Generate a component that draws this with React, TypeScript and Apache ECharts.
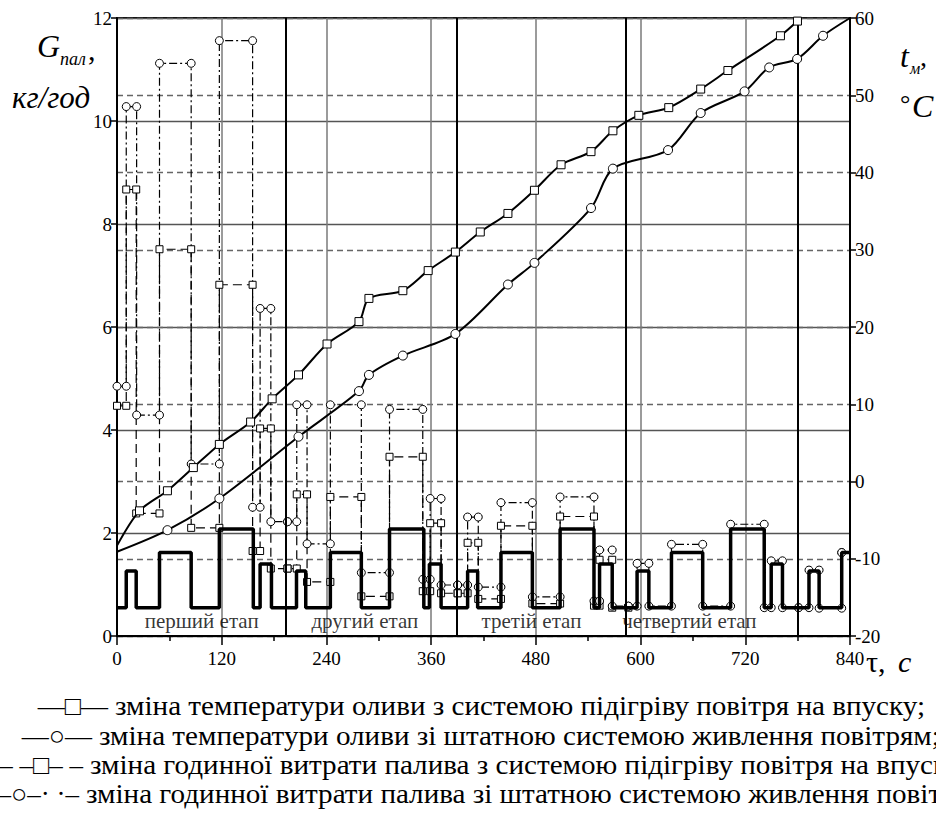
import React, { useEffect, useRef } from "react";
import * as echarts from "echarts";

// ---- DATA ----
// Thick step line (left axis, кг/год): breakpoints (s) and levels
const loadT = [0, 10.6, 22, 48.7, 85, 117.3, 156.2, 164, 177, 205.7, 216.3, 244.5, 280, 312.3, 351.6, 358, 371.4, 401.8, 413.3, 440, 476, 507.8, 546.6, 553, 567.5, 596, 609.5, 635.4, 671.2, 703.2, 741.7, 749.7, 762.6, 793, 804.6, 830.5, 840];
const loadG = [0.55, 1.26, 0.55, 1.62, 0.55, 2.08, 0.55, 1.4, 0.55, 1.26, 0.55, 1.62, 0.55, 2.08, 0.55, 1.4, 0.55, 1.26, 0.55, 1.62, 0.55, 2.08, 0.55, 1.4, 0.55, 1.26, 0.55, 1.62, 0.55, 2.08, 0.55, 1.4, 0.55, 1.26, 0.55, 1.62];

// Fuel consumption with intake-air heating (squares, dashed)
const fuelHeatT = [0, 10.6, 22, 48.7, 85, 117.3, 155.4, 164, 176.3, 195.4, 206, 217.8, 244.5, 280, 312.3, 350.4, 358.9, 371.4, 390.4, 401.8, 414, 440, 476, 507.8, 546.6, 553, 567.5, 586];
const fuelHeatG = [4.47, 8.67, 2.38, 7.51, 2.1, 6.82, 1.65, 4.03, 1.31, 1.31, 2.75, 1.05, 2.7, 0.77, 3.48, 0.87, 2.19, 0.83, 0.83, 1.81, 0.72, 2.14, 0.63, 2.32, 0.59, 1.48, 0.55];

// Fuel consumption with standard air supply (circles, dash-dot)
const fuelStdT = [0, 10.6, 22.5, 48.7, 85, 117.3, 155.4, 164, 176.3, 195.4, 206, 217.8, 244.5, 280, 312.3, 350.4, 358.9, 371.4, 390.4, 401.8, 414, 440, 476, 507.8, 546.6, 553, 567.5, 586, 596, 609.5, 635.4, 671.2, 703.2, 741.7, 749.7, 762.6, 781, 793, 804.6, 830.5, 830.5];
const fuelStdG = [4.85, 10.28, 4.29, 11.12, 3.34, 11.56, 2.5, 6.36, 2.22, 2.22, 4.49, 1.79, 4.49, 1.23, 4.4, 1.1, 2.67, 0.99, 0.99, 2.31, 0.95, 2.59, 0.76, 2.7, 0.68, 1.67, 0.58, 0.58, 1.41, 0.58, 1.78, 0.58, 2.17, 0.55, 1.46, 0.55, 0.55, 1.28, 0.54, 1.62];

// Oil temperature with intake-air heating (squares, right axis °C)
const tempHeatT = [0, 25.8, 57.8, 87.5, 117.3, 153.1, 177.8, 208, 240.7, 277.3, 288.7, 327.6, 356.6, 387.8, 416.3, 448, 478.4, 508.9, 543.2, 568.3, 598, 632.3, 668.9, 700.1, 760.3, 779.8];
const tempHeatV = [-8.3, -3.8, -1.2, 1.8, 4.8, 7.7, 10.7, 13.8, 17.8, 20.7, 23.7, 24.7, 27.3, 29.7, 32.3, 34.7, 37.7, 41.0, 42.7, 45.4, 47.4, 48.4, 50.8, 53.2, 57.7, 59.6];

// Oil temperature with standard air supply (circles, right axis °C)
const tempStdT = [0, 57.8, 117.3, 208, 277.3, 288.7, 327.6, 387.8, 448, 478.4, 543.2, 568.3, 631.5, 668.9, 719.2, 747.4, 779.4, 809.1, 840];
const tempStdV = [-9.1, -6.3, -2.2, 5.8, 11.7, 13.8, 16.3, 19.1, 25.5, 28.3, 35.4, 40.5, 42.9, 47.7, 50.5, 53.6, 54.7, 57.7, 60];

const stageBounds = [193, 389, 583, 780];
const stageNames = ["перший етап", "другий етап", "третій етап", "четвертий етап"];

const legendSymbols = ["—□—", "—○—", "– –□– –", "–○–· ·–"];
const legendTexts = [
  "зміна температури оливи з системою підігріву повітря на впуску;",
  "зміна температури оливи зі штатною системою живлення повітрям;",
  "зміна годинної витрати палива з системою підігріву повітря на впуску;",
  "зміна годинної витрати палива зі штатною системою живлення повітрям;",
];

// ---- layout (not data) ----
const stageLabelAt = [97, 284, 475, 656];
const legendTextX = [115, 99, 90, 86];
const legendY = [706, 736, 765, 794];
const FONT = "Liberation Serif";

function stepPoints(t: number[], g: number[]) {
  const pts: number[][] = [];
  for (let i = 0; i < g.length; i++) {
    pts.push([t[i], g[i]]);
    pts.push([t[i + 1], g[i]]);
  }
  return pts;
}

export default function App() {
  const ref = useRef<HTMLDivElement>(null);
  useEffect(() => {
    document.body.style.margin = "0";
    const chart = echarts.init(ref.current!, undefined, { renderer: "svg" });
    const axisLineStyle = { color: "#000", width: 2 };
    const txt = (x: number, y: number, text: string, size: number, italic = false, align = "left", vAlign = "top", sx = 1) => ({
      type: "text",
      x,
      y,
      scaleX: sx,
      style: { text, fontSize: size, fontFamily: FONT, fontStyle: italic ? "italic" : "normal", fill: "#000", verticalAlign: vAlign, align },
    });
    const option: any = {
      animation: false,
      backgroundColor: "#fff",
      grid: { left: 117, right: 86, top: 18, bottom: 187, show: true, borderColor: "#000", borderWidth: 2 },
      xAxis: {
        type: "value", min: 0, max: 840, interval: 120,
        axisLine: { show: true, lineStyle: axisLineStyle },
        axisTick: { show: true, length: 9, lineStyle: { color: "#000", width: 1.5 } },
        minorTick: { show: true, splitNumber: 2, length: 5, lineStyle: { color: "#000", width: 1.5 } },
        axisLabel: { color: "#000", fontSize: 19, fontFamily: FONT, margin: 13 },
        splitLine: { show: true, lineStyle: { color: "#7a7a7a", width: 1.5 } },
      },
      yAxis: [
        {
          type: "value", min: 0, max: 12, interval: 2, position: "left",
          axisLine: { show: true, lineStyle: axisLineStyle },
          axisTick: { show: true, length: 6, lineStyle: { color: "#000", width: 1.5 } },
          axisLabel: { color: "#000", fontSize: 19, fontFamily: FONT, margin: 5 },
          splitLine: { show: true, lineStyle: { color: "#555", width: 1.3 } },
        },
        {
          type: "value", min: -20, max: 60, interval: 10, position: "right",
          axisLine: { show: true, lineStyle: axisLineStyle },
          axisTick: { show: true, length: 6, lineStyle: { color: "#000", width: 1.5 } },
          axisLabel: { color: "#000", fontSize: 19, fontFamily: FONT, margin: 5 },
          splitLine: { show: true, lineStyle: { color: "#666", width: 1.3, type: [6, 4] } },
        },
      ],
      series: [
        {
          name: "stages", type: "line", data: [],
          markLine: {
            silent: true, symbol: ["none", "none"], label: { show: false },
            lineStyle: { color: "#000", width: 2, type: "solid" },
            data: stageBounds.map((x) => ({ xAxis: x })),
          },
        },
        {
          name: "fuelHeat", type: "line", data: stepPoints(fuelHeatT, fuelHeatG),
          symbol: "rect", symbolSize: 7, showAllSymbol: true,
          lineStyle: { color: "#000", width: 1.2, type: [9, 5] },
          itemStyle: { color: "#fff", borderColor: "#000", borderWidth: 1 }, z: 3,
        },
        {
          name: "fuelStd", type: "line", data: stepPoints(fuelStdT, fuelStdG),
          symbol: "circle", symbolSize: 8, showAllSymbol: true,
          lineStyle: { color: "#000", width: 1.2, type: [8, 3, 2, 3] },
          itemStyle: { color: "#fff", borderColor: "#000", borderWidth: 1 }, z: 3,
        },
        {
          name: "load", type: "line", data: stepPoints(loadT, loadG), symbol: "none",
          lineStyle: { color: "#000", width: 3.5 }, z: 4,
        },
        {
          name: "tempHeat", type: "line", yAxisIndex: 1, smooth: 0.3,
          data: tempHeatT.map((t, i) => ({ value: [t, tempHeatV[i]], symbol: i === 0 ? "none" : "rect" })),
          symbolSize: 8, showAllSymbol: true,
          lineStyle: { color: "#000", width: 2 },
          itemStyle: { color: "#fff", borderColor: "#000", borderWidth: 1 }, z: 5,
        },
        {
          name: "tempStd", type: "line", yAxisIndex: 1, smooth: 0.3,
          data: tempStdT.map((t, i) => ({ value: [t, tempStdV[i]], symbol: i === 0 || i === tempStdT.length - 1 ? "none" : "circle" })),
          symbolSize: 9, showAllSymbol: true,
          lineStyle: { color: "#000", width: 2 },
          itemStyle: { color: "#fff", borderColor: "#000", borderWidth: 1 }, z: 5,
        },
        {
          name: "stageLabels", type: "scatter", symbolSize: 0,
          data: stageNames.map((n, i) => ({ value: [stageLabelAt[i], 0.3], name: n })),
          label: { show: true, position: "inside", formatter: (p: any) => p.name, color: "#000", fontSize: 21, fontFamily: FONT },
          z: 6,
        },
      ],
      graphic: [
        txt(37, 30, "G", 32, true),
        txt(60, 50, "пал", 18, true),
        txt(88, 34, ",", 30),
        txt(12, 82, "кг/год", 31, true),
        txt(900, 40, "t", 32, true),
        txt(910, 60, "м", 16, true),
        txt(920, 42, ",", 28),
        txt(900, 90, "°", 26),
        txt(912, 90, "C", 32, true),
        txt(866, 646, "τ,", 30),
        txt(898, 646, "c", 30, true),
        ...legendSymbols.map((s, i) => txt(legendTextX[i] - 7, legendY[i], s, 27, false, "right", "middle")),
        ...legendTexts.map((t, i) => txt(legendTextX[i], legendY[i], t, 28, false, "left", "middle", 1.04)),
      ],
    };
    chart.setOption(option);
    return () => chart.dispose();
  }, []);
  return <div ref={ref} style={{ position: "fixed", left: 0, top: 0, width: 936, height: 823 }} />;
}
